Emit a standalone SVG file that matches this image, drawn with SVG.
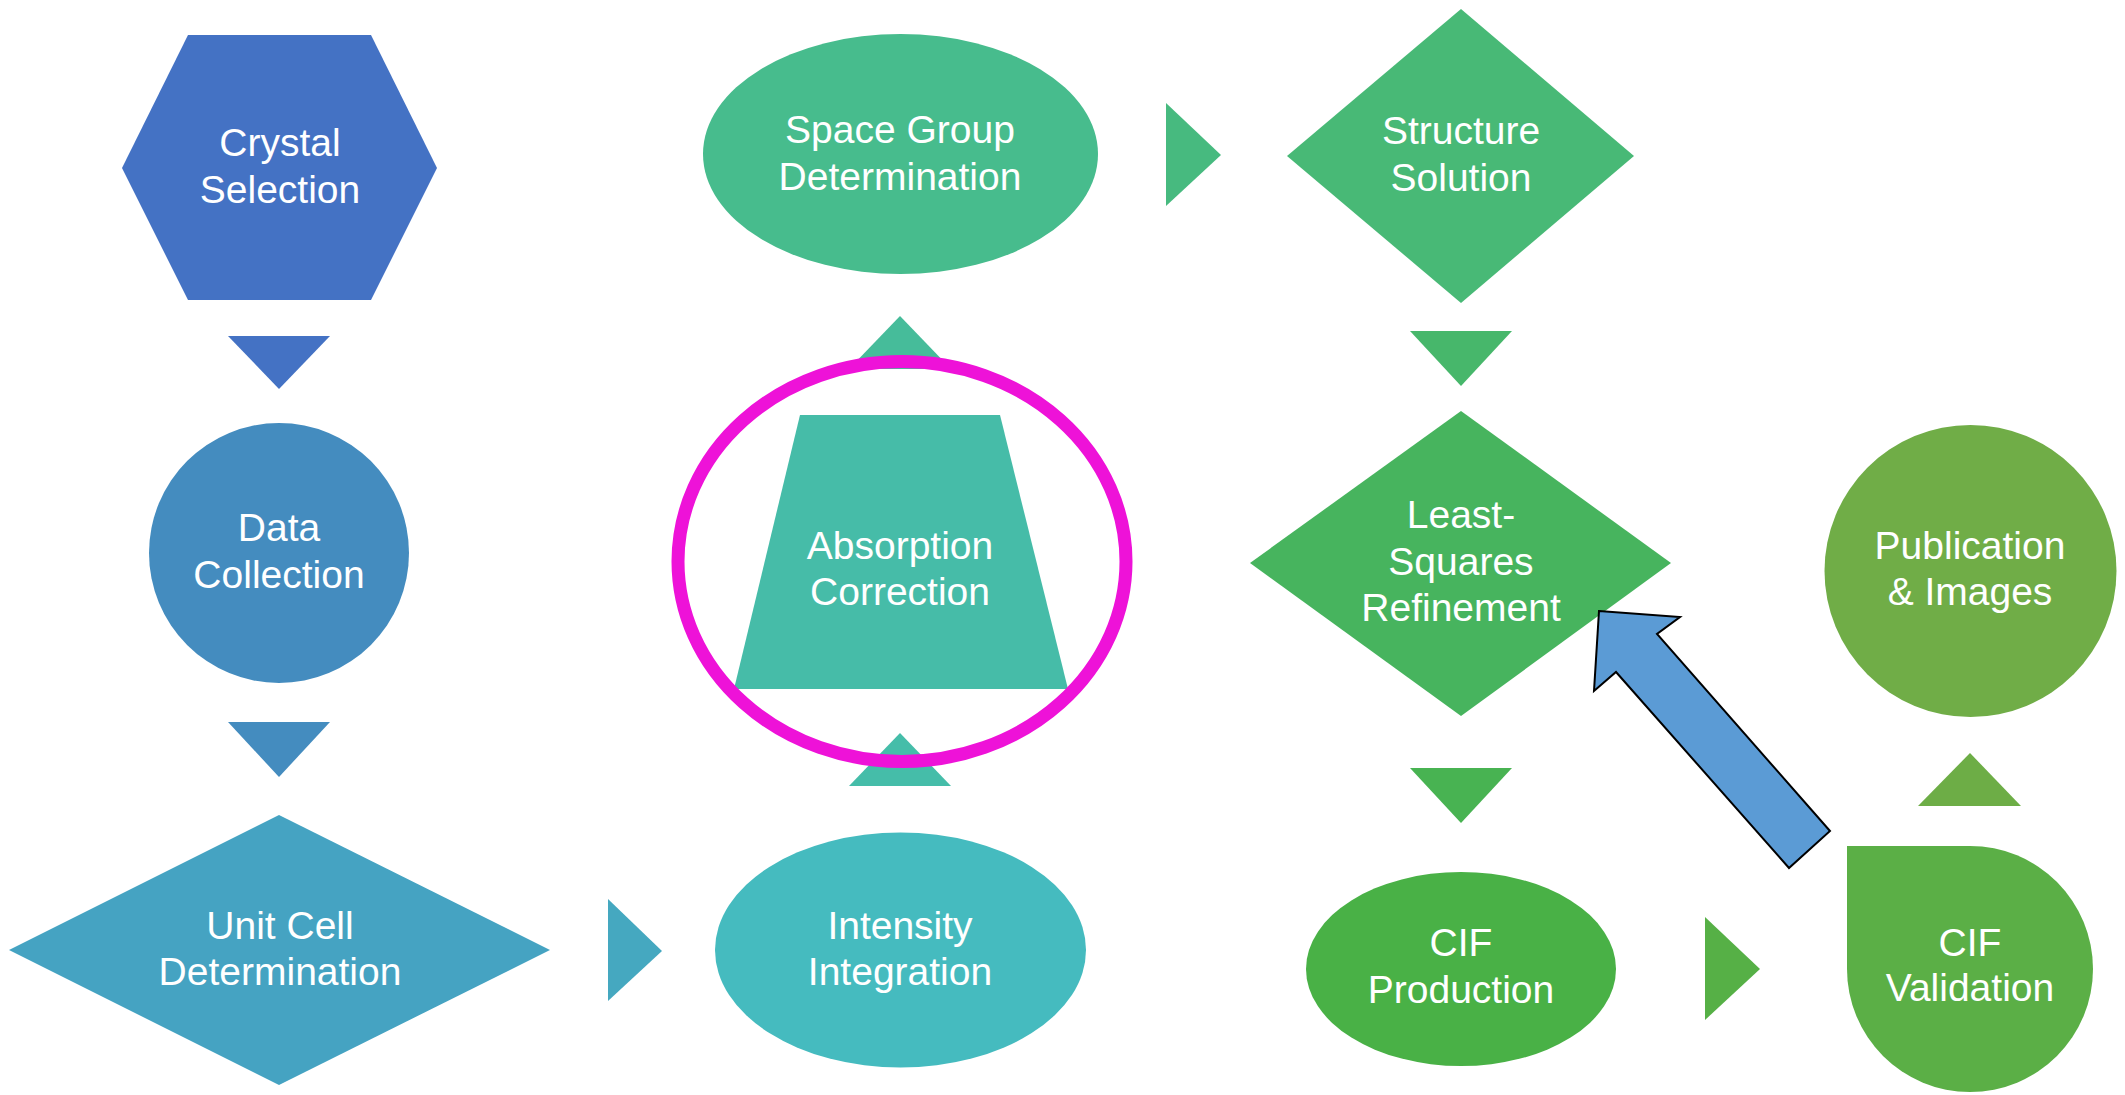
<svg xmlns="http://www.w3.org/2000/svg" width="2125" height="1095" viewBox="0 0 2125 1095">
<style>
text{font-family:"Liberation Sans",Arial,sans-serif;font-size:39px;fill:#FFFFFF;text-anchor:middle}
.ring{fill:none;stroke:#EE12D8;stroke-width:13}
.blk{stroke:#000000;stroke-width:2;stroke-linejoin:miter}
</style>
<rect x="0" y="0" width="2125" height="1095" fill="#FFFFFF"/>
<g id="nodes">
<g id="crystal-selection">
<polygon points="188,35 371,35 437,168 371,300 188,300 122,168" fill="#4472C4"/>
<text x="280" y="156">Crystal</text><text x="280" y="203">Selection</text>
</g>
<g id="data-collection">
<circle cx="279" cy="553" r="130" fill="#448CBF"/>
<text x="279" y="541">Data</text><text x="279" y="588">Collection</text>
</g>
<g id="unit-cell-determination">
<polygon points="279,815 550,950 279,1085 9,950" fill="#45A3C2"/>
<text x="280" y="939">Unit Cell</text><text x="280" y="985">Determination</text>
</g>
<g id="intensity-integration">
<ellipse cx="900.5" cy="950" rx="185.5" ry="117.5" fill="#45BBBF"/>
<text x="900" y="939">Intensity</text><text x="900" y="985">Integration</text>
</g>
<g id="absorption-correction">
<polygon points="800,415 1000,415 1068,689 734,689" fill="#46BCA8"/>
<text x="900" y="559">Absorption</text><text x="900" y="605">Correction</text>
</g>
<g id="space-group-determination">
<ellipse cx="900.5" cy="154" rx="197.5" ry="120" fill="#47BC8D"/>
<text x="900" y="143">Space Group</text><text x="900" y="190">Determination</text>
</g>
<g id="structure-solution">
<polygon points="1461,9 1634,156 1461,303 1287,156" fill="#48B976"/>
<text x="1461" y="144">Structure</text><text x="1461" y="191">Solution</text>
</g>
<g id="least-squares-refinement">
<polygon points="1461,411 1671,563 1461,716 1250,563" fill="#47B45E"/>
<text x="1461" y="528">Least-</text><text x="1461" y="575">Squares</text><text x="1461" y="621">Refinement</text>
</g>
<g id="cif-production">
<ellipse cx="1461" cy="969" rx="155" ry="97" fill="#49B146"/>
<text x="1461" y="956">CIF</text><text x="1461" y="1003">Production</text>
</g>
<g id="cif-validation">
<path d="M1847,846 L1970,846 A123,123 0 1 1 1847,969 Z" fill="#5BAF46"/>
<text x="1970" y="956">CIF</text><text x="1970" y="1001">Validation</text>
</g>
<g id="publication-images">
<circle cx="1970.5" cy="571" r="146" fill="#70AD47"/>
<text x="1970" y="559">Publication</text><text x="1970" y="605">&amp; Images</text>
</g>
</g>
<g id="connectors">
<polygon points="228,336 330,336 279,389" fill="#4472C4"/>
<polygon points="228,722 330,722 279,777" fill="#448CBF"/>
<polygon points="608,899 608,1001 662,951" fill="#45A8C0"/>
<polygon points="900,733 951,786 849,786" fill="#45BDA9"/>
<polygon points="900,316 951,369 849,369" fill="#46BC9A"/>
<polygon points="1166,103 1221,155 1166,206" fill="#47BA7F"/>
<polygon points="1410,331 1512,331 1461,386" fill="#47B76B"/>
<polygon points="1410,768 1512,768 1461,823" fill="#48B352"/>
<polygon points="1705,917 1760,969 1705,1020" fill="#56B046"/>
<polygon points="1970,753 2021,806 1918,806" fill="#6DAD46"/>
<polygon class="blk" points="1599,611 1680,617 1657,634 1830,831 1789,868 1616,672 1594,691" fill="#5B9BD5"/>
</g>
<g id="highlight">
<ellipse class="ring" cx="902" cy="561.5" rx="224" ry="200"/>
</g>
</svg>
